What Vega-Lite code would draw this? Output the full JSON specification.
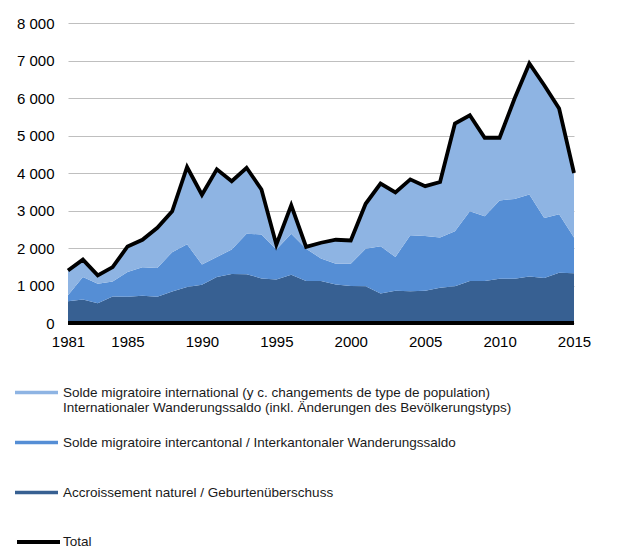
{
  "$schema": "https://vega.github.io/schema/vega-lite/v6.json",
  "width": 506,
  "height": 300,
  "autosize": {"type": "none"},
  "padding": {"left": 68, "top": 23, "right": 48, "bottom": 225},
  "background": "white",
  "config": {
    "view": {"stroke": null},
    "font": "Liberation Sans"
  },
  "data": {
    "values": [
      {"year": 1981, "accroissement": 580, "intercantonal": 160, "international": 660, "total": 1400},
      {"year": 1982, "accroissement": 630, "intercantonal": 600, "international": 460, "total": 1690},
      {"year": 1983, "accroissement": 530, "intercantonal": 520, "international": 220, "total": 1270},
      {"year": 1984, "accroissement": 710, "intercantonal": 400, "international": 380, "total": 1490},
      {"year": 1985, "accroissement": 700, "intercantonal": 660, "international": 680, "total": 2040},
      {"year": 1986, "accroissement": 730, "intercantonal": 760, "international": 730, "total": 2220},
      {"year": 1987, "accroissement": 700, "intercantonal": 770, "international": 1070, "total": 2540},
      {"year": 1988, "accroissement": 840, "intercantonal": 1050, "international": 1090, "total": 2980},
      {"year": 1989, "accroissement": 960, "intercantonal": 1140, "international": 2060, "total": 4160},
      {"year": 1990, "accroissement": 1020, "intercantonal": 540, "international": 1860, "total": 3420},
      {"year": 1991, "accroissement": 1230, "intercantonal": 530, "international": 2340, "total": 4100},
      {"year": 1992, "accroissement": 1310, "intercantonal": 650, "international": 1820, "total": 3780},
      {"year": 1993, "accroissement": 1300, "intercantonal": 1080, "international": 1760, "total": 4140},
      {"year": 1994, "accroissement": 1190, "intercantonal": 1170, "international": 1200, "total": 3560},
      {"year": 1995, "accroissement": 1160, "intercantonal": 800, "international": 130, "total": 2090},
      {"year": 1996, "accroissement": 1290, "intercantonal": 1090, "international": 760, "total": 3140},
      {"year": 1997, "accroissement": 1120, "intercantonal": 860, "international": 50, "total": 2030},
      {"year": 1998, "accroissement": 1120, "intercantonal": 600, "international": 420, "total": 2140},
      {"year": 1999, "accroissement": 1030, "intercantonal": 550, "international": 640, "total": 2220},
      {"year": 2000, "accroissement": 990, "intercantonal": 590, "international": 620, "total": 2200},
      {"year": 2001, "accroissement": 980, "intercantonal": 1000, "international": 1200, "total": 3180},
      {"year": 2002, "accroissement": 790, "intercantonal": 1260, "international": 1670, "total": 3720},
      {"year": 2003, "accroissement": 860, "intercantonal": 900, "international": 1720, "total": 3480},
      {"year": 2004, "accroissement": 850, "intercantonal": 1490, "international": 1490, "total": 3830},
      {"year": 2005, "accroissement": 860, "intercantonal": 1460, "international": 1330, "total": 3650},
      {"year": 2006, "accroissement": 940, "intercantonal": 1340, "international": 1480, "total": 3760},
      {"year": 2007, "accroissement": 980, "intercantonal": 1470, "international": 2870, "total": 5320},
      {"year": 2008, "accroissement": 1120, "intercantonal": 1860, "international": 2560, "total": 5540},
      {"year": 2009, "accroissement": 1120, "intercantonal": 1730, "international": 2090, "total": 4940},
      {"year": 2010, "accroissement": 1180, "intercantonal": 2090, "international": 1670, "total": 4940},
      {"year": 2011, "accroissement": 1180, "intercantonal": 2130, "international": 2670, "total": 5980},
      {"year": 2012, "accroissement": 1240, "intercantonal": 2190, "international": 3490, "total": 6920},
      {"year": 2013, "accroissement": 1200, "intercantonal": 1600, "international": 3540, "total": 6340},
      {"year": 2014, "accroissement": 1340, "intercantonal": 1560, "international": 2820, "total": 5720},
      {"year": 2015, "accroissement": 1330, "intercantonal": 950, "international": 1720, "total": 4000}
    ]
  },
  "encoding": {
    "x": {
      "field": "year",
      "type": "quantitative",
      "scale": {"domain": [1981, 2015], "nice": false, "zero": false},
      "axis": {
        "title": null,
        "values": [1981, 1985, 1990, 1995, 2000, 2005, 2010, 2015],
        "format": "d",
        "grid": false,
        "ticks": false,
        "domain": false,
        "labelFontSize": 15,
        "labelColor": "#000000",
        "labelPadding": 11,
        "labelFlush": false,
        "labelOverlap": false
      }
    }
  },
  "layer": [
    {
      "transform": [
        {"fold": ["accroissement", "intercantonal", "international"], "as": ["series", "value"]}
      ],
      "mark": {"type": "area", "line": false},
      "encoding": {
        "y": {
          "field": "value",
          "type": "quantitative",
          "stack": "zero",
          "scale": {"domain": [0, 8000], "nice": false},
          "axis": {
            "title": null,
            "values": [0, 1000, 2000, 3000, 4000, 5000, 6000, 7000, 8000],
            "labelExpr": "replace(format(datum.value, ',d'), ',', ' ')",
            "grid": true,
            "gridColor": "#bfbfbf",
            "gridWidth": 1.2,
            "domain": false,
            "ticks": false,
            "labelOverlap": false,
            "labelFontSize": 15,
            "labelColor": "#000000",
            "labelPadding": 14
          }
        },
        "order": {"field": "series", "sort": "ascending"},
        "color": {
          "field": "series",
          "type": "nominal",
          "scale": {
            "domain": ["international", "intercantonal", "accroissement"],
            "range": ["#8EB4E3", "#558ED5", "#376092"]
          },
          "legend": {
            "title": null,
            "orient": "none",
            "legendX": -53,
            "legendY": 348,
            "direction": "vertical",
            "symbolType": "M-1,-0.08L1,-0.08L1,0.08L-1,0.08Z",
            "symbolSize": 1849,
            "symbolStrokeWidth": 0,
            "symbolOpacity": 1,
            "labelFontSize": 13.5,
            "labelColor": "#1a1a1a",
            "labelOffset": 5,
            "labelLimit": 0,
            "rowPadding": 6,
            "labelExpr": "datum.label == 'international' ? ['Solde migratoire international (y c. changements de type de population)', 'Internationaler Wanderungssaldo (inkl. Änderungen des Bevölkerungstyps)'] : datum.label == 'intercantonal' ? ['Solde migratoire intercantonal / Interkantonaler Wanderungssaldo', ' '] : ['Accroissement naturel / Geburtenüberschuss', ' ']"
          }
        }
      }
    },
    {
      "mark": {"type": "rule", "color": "#000000", "strokeWidth": 3},
      "encoding": {
        "y": {
          "datum": 0,
          "type": "quantitative",
          "axis": {
            "title": null,
            "values": [0, 1000, 2000, 3000, 4000, 5000, 6000, 7000, 8000],
            "labelExpr": "replace(format(datum.value, ',d'), ',', ' ')",
            "grid": true,
            "gridColor": "#bfbfbf",
            "gridWidth": 1.2,
            "domain": false,
            "ticks": false,
            "labelOverlap": false,
            "labelFontSize": 15,
            "labelColor": "#000000",
            "labelPadding": 14
          }
        },
        "x": {"datum": 1981, "type": "quantitative"},
        "x2": {"datum": 2015}
      }
    },
    {
      "mark": {"type": "line", "strokeWidth": 3.8, "strokeJoin": "miter"},
      "encoding": {
        "y": {
          "field": "total",
          "type": "quantitative",
          "axis": {
            "title": null,
            "values": [0, 1000, 2000, 3000, 4000, 5000, 6000, 7000, 8000],
            "labelExpr": "replace(format(datum.value, ',d'), ',', ' ')",
            "grid": true,
            "gridColor": "#bfbfbf",
            "gridWidth": 1.2,
            "domain": false,
            "ticks": false,
            "labelOverlap": false,
            "labelFontSize": 15,
            "labelColor": "#000000",
            "labelPadding": 14
          }
        },
        "stroke": {
          "datum": "Total",
          "type": "nominal",
          "scale": {"range": ["#000000"]},
          "legend": {
            "title": null,
            "orient": "none",
            "legendX": -53,
            "legendY": 495.5,
            "symbolType": "stroke",
            "symbolSize": 1849,
            "symbolStrokeWidth": 3.8,
            "labelFontSize": 13.5,
            "labelColor": "#1a1a1a",
            "labelOffset": 1
          }
        }
      }
    }
  ]
}
